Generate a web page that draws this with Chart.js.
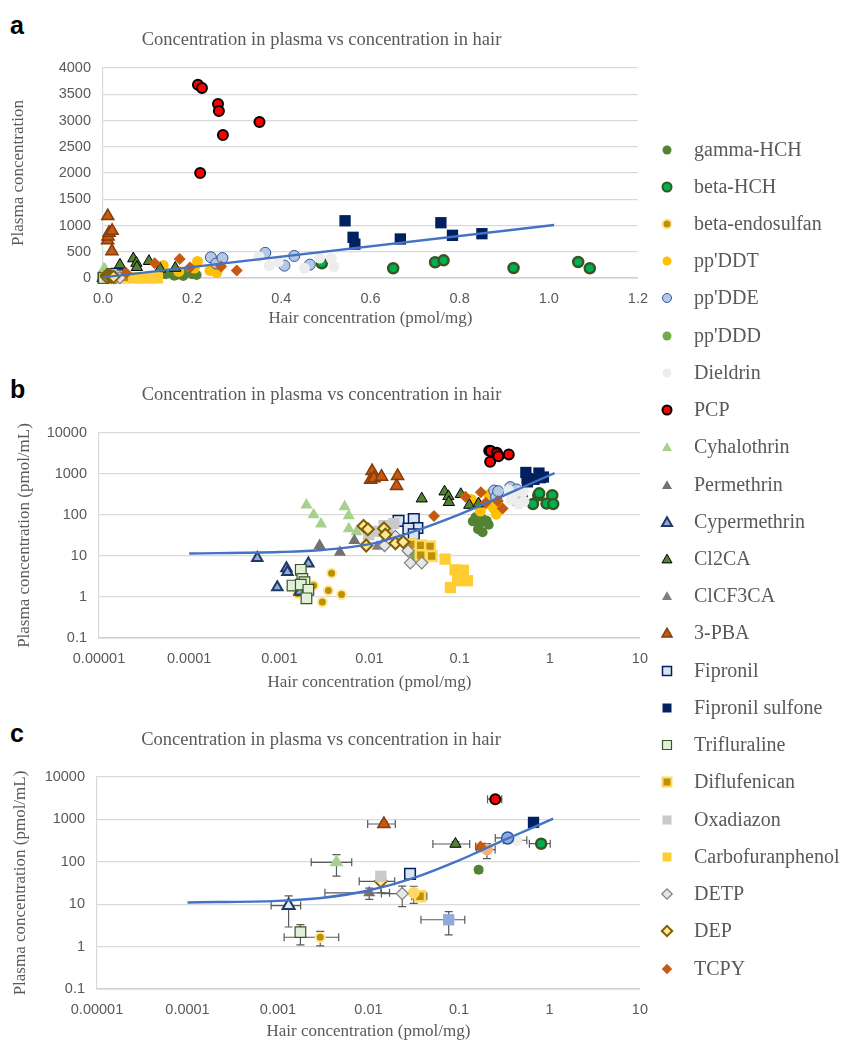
<!DOCTYPE html>
<html><head><meta charset="utf-8">
<script src="https://cdn.jsdelivr.net/npm/chart.js@4.4.1/dist/chart.umd.min.js"></script>
<style>
html,body{margin:0;padding:0;background:#fff;}
#wrap{position:relative;width:843px;height:1042px;overflow:hidden;background:#fff;}
canvas.ch{position:absolute;left:0;}
.panel{position:absolute;left:10px;font:bold 25px "Liberation Sans",Arial,sans-serif;color:#000;line-height:25px;height:25px;}
.li{position:absolute;left:656px;height:24px;line-height:24px;font:20px "Liberation Serif","Times New Roman",serif;color:#595959;white-space:nowrap;}
.li canvas{position:absolute;left:0;top:0;}
.li span{position:absolute;left:38px;top:0;}
</style></head>
<body>
<div id="wrap">
  <div class="panel" style="top:13px">a</div>
  <div class="panel" style="top:377px">b</div>
  <div class="panel" style="top:721px">c</div>
  <canvas id="ca" class="ch" width="660" height="335" style="top:0px"></canvas>
  <canvas id="cb" class="ch" width="660" height="345" style="top:355px"></canvas>
  <canvas id="cc" class="ch" width="660" height="342" style="top:700px"></canvas>
  <div id="legend"></div>
</div>
<script>
// ---------------- DATA ----------------
const seriesNames = ["gamma-HCH","beta-HCH","beta-endosulfan","pp'DDT","pp'DDE","pp'DDD","Dieldrin","PCP",
  "Cyhalothrin","Permethrin","Cypermethrin","Cl2CA","ClCF3CA","3-PBA","Fipronil","Fipronil sulfone",
  "Trifluraline","Diflufenican","Oxadiazon","Carbofuranphenol","DETP","DEP","TCPY"];

// [hair (pmol/mg), plasma (pmol/mL)]
const gammaHCH = [[0.14,70],[0.15,88],[0.165,60],[0.18,80],[0.2,72],[0.16,45],[0.18,38],[0.21,58]];
const betaHCH = [[0.491,280],[0.651,185],[0.745,300],[0.764,337],[0.921,190],[1.066,305],[1.092,185]];
const betaEndosulfan = [[0.0016,1.2],[0.0024,1.9],[0.003,0.75],[0.0035,1.45],[0.0038,3.8],[0.0049,1.15]];
const ppDDT = [[0.135,240],[0.17,125],[0.205,190],[0.212,315],[0.24,145],[0.255,105],[0.26,215]];
const ppDDE = [[0.242,395],[0.254,275],[0.268,380],[0.364,480],[0.407,235],[0.429,420],[0.464,255]];
const ppDDD = [[0.03,13],[0.032,9]];
const dieldrin = [[0.35,405],[0.373,235],[0.393,310],[0.452,185],[0.486,380],[0.512,375],[0.518,215]];
const PCP = [[0.213,3680],[0.222,3620],[0.258,3315],[0.26,3180],[0.269,2725],[0.351,2970],[0.218,2000]];
const cyhalothrin = [[0.002,176],[0.0024,102],[0.0029,60],[0.0053,159],[0.0059,96],[0.0059,46],[0.0072,39]];
const permethrin = [[0.0028,18],[0.0047,12.3],[0.0068,24]];
const cypermethrin = [[0.00057,8.9],[0.00095,1.72],[0.0012,5.0],[0.00123,4.1],[0.0021,6.6],[0.00168,1.35]];
const Cl2CA = [[0.038,250],[0.068,370],[0.075,285],[0.076,205],[0.103,320],[0.128,175],[0.162,190]];
const ClCF3CA = [[0.0122,17],[0.014,20]];
const PBA3 = [[0.0107,1180],[0.0103,720],[0.0112,790],[0.0136,860],[0.0205,900],[0.02,510]];
const fipronil = [[0.021,72],[0.031,80],[0.034,48],[0.027,47],[0.031,34]];
const fipronilSulfone = [[0.543,1090],[0.561,775],[0.565,645],[0.667,743],[0.758,1053],[0.784,813],[0.85,844]];
const trifluraline = [[0.00173,4.6],[0.0018,2.75],[0.0019,2.3],[0.0014,1.9],[0.00173,2.0],[0.0021,1.5],[0.002,0.93]];
const diflufenican = [[0.029,19],[0.037,18],[0.047,17],[0.037,10.5],[0.049,10]];
const oxadiazon = [[0.0098,33],[0.0126,40],[0.0145,55],[0.0186,62],[0.016,45]];
const carbofuranphenol = [[0.069,8.4],[0.089,4.6],[0.11,4.5],[0.095,2.5],[0.122,2.5],[0.079,1.7]];
const DETP = [[0.0147,18],[0.0268,13.4],[0.0284,6.8],[0.038,6.8],[0.0194,30]];
const DEP = [[0.0086,54],[0.0096,45],[0.0092,18],[0.0145,47],[0.015,33],[0.0194,20.5],[0.0237,22]];
const TCPY = [[0.052,95],[0.116,280],[0.172,360],[0.195,200],[0.265,220],[0.3,145]];

const seriesValues = [gammaHCH,betaHCH,betaEndosulfan,ppDDT,ppDDE,ppDDD,dieldrin,PCP,cyhalothrin,permethrin,
  cypermethrin,Cl2CA,ClCF3CA,PBA3,fipronil,fipronilSulfone,trifluraline,diflufenican,oxadiazon,carbofuranphenol,DETP,DEP,TCPY];

// trend lines
const trendAX = [0, 1.012];
const trendAY = [11, 1010];
const trendBX = [0.0001, 0.001, 0.003, 0.01, 0.03, 0.1, 0.3, 0.6, 1.13];
const trendBY = [11.5, 12.5, 14, 19.5, 39, 104, 290, 570, 1050];
const trendCX = [0.0001, 0.001, 0.003, 0.01, 0.03, 0.1, 0.3, 0.6, 1.1];
const trendCY = [11, 12, 14, 21, 40, 108, 310, 590, 1040];

// panel c: means with error bars
const cNames = ["Cypermethrin","Trifluraline","beta-endosulfan","Cyhalothrin","Permethrin","Oxadiazon","DEP","DETP",
  "Fipronil","pp'DDD","Diflufenican","Carbofuranphenol","Cl2CA","TCPY","pp'DDT","gamma-HCH","pp'DDE","Dieldrin",
  "beta-HCH","PCP","3-PBA","Fipronil sulfone"];
const cX    = [0.00131,0.00177,0.00293,0.00443,0.0102,0.0137,0.0137,0.0236,0.0288,0.0316,0.0371,0.077,0.0915,0.173,0.204,0.165,0.345,0.437,0.81,0.252,0.0148,0.667];
const cY    = [9.3,2.2,1.66,97,18.5,45.5,34.6,17.8,52,18.5,15.4,4.3,263,231,194,65,366,322,267,3000,780,850];
const cXErr = [0.00047,0,0.00176,0.0021,0.0069,0,0.0058,0.0097,0,0,0.007,0.039,0.04,0.02,0.047,0,0.093,0.125,0.21,0.045,0.005,0.08];
const cYErr = [6.4,1.1,0.62,51,5.5,0,16,9,0,8,0,2.4,35,0,75,10,0,0,0,0,110,0];

const aXTicks = [0,0.2,0.4,0.6,0.8,1.0,1.2];
const aXLabels = ["0.0","0.2","0.4","0.6","0.8","1.0","1.2"];
const aYTicks = [0,500,1000,1500,2000,2500,3000,3500,4000];
const logXTicks = [0.00001,0.0001,0.001,0.01,0.1,1,10];
const logXLabels = ["0.00001","0.0001","0.001","0.01","0.1","1","10"];
const logYTicks = [0.1,1,10,100,1000,10000];
const logYLabels = ["0.1","1","10","100","1000","10000"];

// ---------------- STYLES ----------------
const seriesStyles = [
  {shape:'circle',r:5,bg:'#548235'},
  {shape:'circle',r:5,bg:'#00b050',bc:'#375623',bw:2.5},
  {shape:'circle',r:4.5,bg:'#bf9000',bc:'#ffe699',bw:2},
  {shape:'circle',r:5.5,bg:'#ffc000'},
  {shape:'circle',r:5.5,bg:'#b4c7e7',bc:'#2f5597',bw:1},
  {shape:'circle',r:5,bg:'#70ad47'},
  {shape:'circle',r:5.5,bg:'#ededed'},
  {shape:'circle',r:5,bg:'#ff0000',bc:'#000000',bw:2},
  {shape:'triangle',r:7,bg:'#a9d18e'},
  {shape:'triangle',r:7,bg:'#767171'},
  {shape:'triangle',r:6,bg:'#8faadc',bc:'#1f3864',bw:2},
  {shape:'triangle',r:6.5,bg:'#548235',bc:'#000000',bw:1},
  {shape:'triangle',r:6.5,bg:'#7f7f7f'},
  {shape:'triangle',r:7,bg:'#c55a11',bc:'#843c0c',bw:1.5},
  {shape:'rect',r:7.5,bg:'#dae3f3',bc:'#002060',bw:1.5},
  {shape:'rect',r:8,bg:'#002060'},
  {shape:'rect',r:7.5,bg:'#e2f0d9',bc:'#385723',bw:1.2},
  {shape:'rect',r:7,bg:'#bf9000',bc:'#ffd966',bw:2.5},
  {shape:'rect',r:8,bg:'#c9c9c9'},
  {shape:'rect',r:8,bg:'#ffcc33'},
  {shape:'rectRot',r:6,bg:'#e7e6e6',bc:'#7f7f7f',bw:1.2},
  {shape:'rectRot',r:6,bg:'#ffe699',bc:'#7f6000',bw:2},
  {shape:'rectRot',r:6,bg:'#c55a11'}
];
const cStyleOverride = {
  "Cypermethrin":{bg:'#deebf7',bc:'#1f3864',bw:2,r:7},
  "pp'DDD":{bg:'#ffd966',bc:'#ffd966',bw:0,r:6},
  "Carbofuranphenol":{bg:'#8faadc',r:8},
  "pp'DDT":{bg:'#f4b183',r:6},
  "pp'DDE":{bg:'#8faadc',bc:'#2f5597',bw:1.5,r:6},
  "Cyhalothrin":{r:8}
};

const SERIF = '"Liberation Serif","Times New Roman",serif';
const SANS = '"Liberation Sans",Arial,sans-serif';
const GRAY = '#595959';
const TITLE = 'Concentration in plasma vs concentration in hair';

function pointDataset(label, pts, st, order) {
  return {
    label, data: pts.map(([x,y]) => ({x,y})),
    pointStyle: st.shape, pointRadius: st.r, pointHoverRadius: st.r,
    pointBackgroundColor: st.bg, pointBorderColor: st.bc || st.bg, pointBorderWidth: st.bw || 0,
    backgroundColor: st.bg, borderColor: st.bc || st.bg, borderWidth: st.bw || 0,
    showLine: false, order, clip: false
  };
}
function trendDataset(xs, ys) {
  return {
    label: 'trend', data: xs.map((x,i) => ({x, y: ys[i]})), showLine: true,
    borderColor: '#4472c4', borderWidth: 2.4, pointRadius: 0, pointHoverRadius: 0,
    cubicInterpolationMode: 'monotone', fill: false, order: -1, clip: false
  };
}

const errorBars = {
  id: 'errorBars',
  beforeDatasetsDraw(chart) {
    const ctx = chart.ctx, xs = chart.scales.x, ys = chart.scales.y;
    ctx.save();
    ctx.strokeStyle = '#595959'; ctx.lineWidth = 1.2;
    chart.data.datasets.forEach(ds => {
      if (!ds.errX) return;
      ds.data.forEach((p, i) => {
        const px = xs.getPixelForValue(p.x), py = ys.getPixelForValue(p.y);
        const ex = ds.errX[i], ey = ds.errY[i], cap = 4;
        ctx.beginPath();
        if (ex > 0) {
          const x1 = xs.getPixelForValue(Math.max(p.x - ex, 1e-6)), x2 = xs.getPixelForValue(p.x + ex);
          ctx.moveTo(x1, py); ctx.lineTo(x2, py);
          ctx.moveTo(x1, py - cap); ctx.lineTo(x1, py + cap);
          ctx.moveTo(x2, py - cap); ctx.lineTo(x2, py + cap);
        }
        if (ey > 0) {
          const y1 = ys.getPixelForValue(Math.max(p.y - ey, 0.05)), y2 = ys.getPixelForValue(p.y + ey);
          ctx.moveTo(px, y1); ctx.lineTo(px, y2);
          ctx.moveTo(px - cap, y1); ctx.lineTo(px + cap, y1);
          ctx.moveTo(px - cap, y2); ctx.lineTo(px + cap, y2);
        }
        ctx.stroke();
      });
    });
    ctx.restore();
  }
};

function makeOptions(L, log, yTitle) {
  const tickFont = {family: SANS, size: 14.5};
  const xScale = log ? {
      type: 'logarithmic', min: 0.00001, max: 10,
      afterBuildTicks: s => { s.ticks = logXTicks.map(v => ({value: v})); },
      ticks: {callback: (v, i) => logXLabels[i], autoSkip: false, maxRotation: 0, color: GRAY, font: tickFont, padding: 12}
    } : {
      type: 'linear', min: 0, max: 1.2,
      afterBuildTicks: s => { s.ticks = aXTicks.map(v => ({value: v})); },
      ticks: {callback: (v, i) => aXLabels[i], autoSkip: false, maxRotation: 0, color: GRAY, font: tickFont, padding: 12}
    };
  Object.assign(xScale, {
    position: 'bottom',
    grid: {display: false, drawTicks: false},
    border: {display: true, color: '#d0d0d0', width: 1.6},
    title: {display: true, text: 'Hair concentration (pmol/mg)', color: GRAY,
      font: {family: SERIF, size: 17}, padding: {top: 0, bottom: L.xTitlePad}},
    afterFit: s => { s.height = L.xAxisH; }
  });
  const yScale = log ? {
      type: 'logarithmic', min: 0.1, max: 10000,
      afterBuildTicks: s => { s.ticks = logYTicks.map(v => ({value: v})); },
      ticks: {callback: (v, i) => logYLabels[i], autoSkip: false, color: GRAY, font: tickFont, padding: 12}
    } : {
      type: 'linear', min: 0, max: 4000,
      afterBuildTicks: s => { s.ticks = aYTicks.map(v => ({value: v})); },
      ticks: {callback: v => String(v), autoSkip: false, color: GRAY, font: tickFont, padding: 12}
    };
  Object.assign(yScale, {
    position: 'left',
    grid: {display: true, color: '#d9d9d9', lineWidth: 1.2, drawTicks: false},
    border: {display: true, color: '#d9d9d9', width: 1.2},
    title: {display: true, text: yTitle, color: GRAY, font: {family: SERIF, size: 17}, padding: {top: L.yTitlePad, bottom: 0}},
    afterFit: s => { s.width = L.plotLeft; }
  });
  return {
    responsive: false, animation: false, devicePixelRatio: 1,
    layout: {padding: {left: 0, right: L.right, top: 0, bottom: 0}},
    plugins: {
      legend: {display: false}, tooltip: {enabled: false},
      title: {display: true, text: TITLE, color: GRAY, font: {family: SERIF, size: 18.5, weight: 'normal'},
        padding: {top: L.tTop, bottom: L.tBot}}
    },
    scales: {x: xScale, y: yScale}
  };
}

const N = seriesNames.length;
function abDatasets(trendX, trendY) {
  const ds = seriesNames.map((n, i) => pointDataset(n, seriesValues[i], seriesStyles[i], N - i + 1));
  ds.push(trendDataset(trendX, trendY));
  return ds;
}

new Chart(document.getElementById('ca'), {
  type: 'scatter',
  data: {datasets: abDatasets(trendAX, trendAY)},
  options: makeOptions({plotLeft: 103, xAxisH: 57, right: 17, tTop: 28.9, tBot: 16.9, yTitlePad: 8.8, xTitlePad: 5.8}, false, 'Plasma concentration')
});
new Chart(document.getElementById('cb'), {
  type: 'scatter',
  data: {datasets: abDatasets(trendBX, trendBY)},
  options: makeOptions({plotLeft: 99, xAxisH: 62, right: 17, tTop: 28.9, tBot: 26.9, yTitlePad: 14.8, xTitlePad: 6.8}, true, 'Plasma concentration (pmol/mL)')
});

const cDatasets = cNames.map((n, i) => {
  const base = seriesStyles[seriesNames.indexOf(n)];
  const st = Object.assign({}, base, cStyleOverride[n] || {});
  const d = pointDataset(n, [[cX[i], cY[i]]], st, 1);
  d.errX = [cXErr[i]]; d.errY = [cYErr[i]];
  return d;
});
cDatasets.push(trendDataset(trendCX, trendCY));
new Chart(document.getElementById('cc'), {
  type: 'scatter',
  data: {datasets: cDatasets},
  options: makeOptions({plotLeft: 97, xAxisH: 53, right: 18, tTop: 28.9, tBot: 25.9, yTitlePad: 10.8, xTitlePad: 0}, true, 'Plasma concentration (pmol/mL)'),
  plugins: [errorBars]
});

// ---------------- LEGEND ----------------
function drawIcon(ctx, st, x, y) {
  ctx.beginPath();
  if (st.shape === 'circle') {
    ctx.arc(x, y, 4.5, 0, Math.PI * 2);
  } else if (st.shape === 'triangle') {
    const r = 5.8;
    for (let k = 0; k < 3; k++) {
      const a = k * 2 * Math.PI / 3;
      const px = x + Math.sin(a) * r, py = y + 1 - Math.cos(a) * r;
      k ? ctx.lineTo(px, py) : ctx.moveTo(px, py);
    }
    ctx.closePath();
  } else if (st.shape === 'rect') {
    ctx.rect(x - 4.5, y - 4.5, 9, 9);
  } else {
    const r = 5.2;
    ctx.moveTo(x - r, y); ctx.lineTo(x, y - r); ctx.lineTo(x + r, y); ctx.lineTo(x, y + r); ctx.closePath();
  }
  ctx.fillStyle = st.bg; ctx.fill();
  if (st.bw) { ctx.lineWidth = Math.min(st.bw, 2); ctx.strokeStyle = st.bc; ctx.stroke(); }
}
const legend = document.getElementById('legend');
const legendTop0 = 149.5, legendStep = 37.23;
seriesNames.forEach((n, i) => {
  const div = document.createElement('div');
  div.className = 'li';
  div.style.top = (legendTop0 + legendStep * i - 12) + 'px';
  const cv = document.createElement('canvas');
  cv.width = 22; cv.height = 24;
  drawIcon(cv.getContext('2d'), seriesStyles[i], 11, 12);
  const sp = document.createElement('span');
  sp.textContent = n;
  div.appendChild(cv); div.appendChild(sp);
  legend.appendChild(div);
});
</script>
</body></html>
